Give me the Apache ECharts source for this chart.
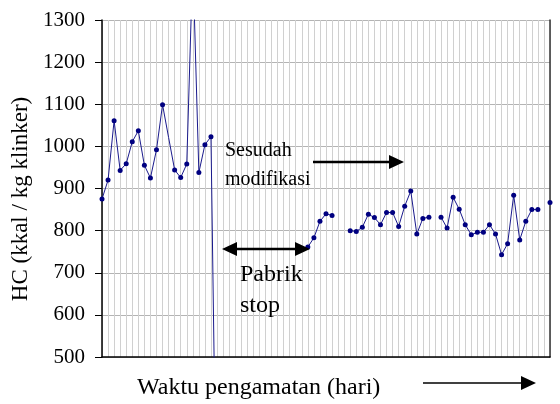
<!DOCTYPE html>
<html>
<head>
<meta charset="utf-8">
<script src="https://cdn.jsdelivr.net/npm/echarts@6/dist/echarts.min.js"></script>
<style>
  html, body { margin: 0; padding: 0; background: #fff; }
  #main { width: 560px; height: 404px; }
</style>
</head>
<body>
<div id="main"></div>
<script>
// hari pengamatan (1..75)
var hari = [];
for (var d = 1; d <= 75; d++) { hari.push(String(d)); }

// HC (kkal / kg klinker), null = tidak ada data (pabrik stop / kosong)
var hc = [
  875, 920, 1061, 943, 959, 1011, 1037, 955, 925, 992,
  1099, 1021, 944, 926, 958, 1440, 938, 1004, 1023, 0,
  null, null, null, null, null, null, null, null, null, null,
  null, null, null, null, 761, 783, 822, 840, 836, null,
  null, 800, 798, 808, 839, 831, 814, 843, 843, 810,
  858, 894, 792, 829, 832, null, 832, 806, 879, 851,
  814, 790, 796, 796, 814, 792, 743, 769, 884, 778,
  822, 850, 850, null, 867
];
var yTicks = [500, 600, 700, 800, 900, 1000, 1100, 1200, 1300];

// titik tanpa marker (garis lurus di Excel)
var noMarker = [11];

var myChart = echarts.init(document.getElementById('main'));
var serif = 'Liberation Serif';

var seriesData = hc.map(function (v, i) {
  if (noMarker.indexOf(i) >= 0) return { value: v, symbol: 'none' };
  return v;
});

function arrowHead(x, y, dir) {
  // dir 1 = kanan, -1 = kiri
  return {
    type: 'polygon',
    z: 100,
    shape: { points: [[x, y], [x - dir * 15, y - 7], [x - dir * 15, y + 7]] },
    style: { fill: '#000' }
  };
}

var option = {
  animation: false,
  grid: { left: 102, right: 10, top: 20, bottom: 47, outerBoundsMode: 'none', containLabel: false },
  xAxis: {
    type: 'category',
    data: hari,
    boundaryGap: false,
    axisLine: { onZero: false, lineStyle: { color: '#000', width: 1.5 } },
    axisTick: { show: false },
    axisLabel: { show: false },
    splitLine: { show: true, interval: 0, lineStyle: { color: '#d0d0d0', width: 1 } }
  },
  yAxis: [{
    type: 'value',
    min: yTicks[0],
    max: yTicks[yTicks.length - 1],
    interval: 100,
    axisLine: { show: true, lineStyle: { color: '#000', width: 1.5 } },
    axisTick: { show: true, inside: false, length: 7, lineStyle: { color: '#000' } },
    axisLabel: {
      fontFamily: serif, fontSize: 21, color: '#000', margin: 17,
      formatter: function (v) { return String(v); }
    },
    splitLine: { show: true, lineStyle: { color: '#b4b4b4', width: 1 } }
  }, {
    type: 'value',
    position: 'right',
    min: yTicks[0],
    max: yTicks[yTicks.length - 1],
    interval: 100,
    axisLine: { show: true, lineStyle: { color: '#333', width: 1.5 } },
    axisTick: { show: false },
    axisLabel: { show: false },
    splitLine: { show: false }
  }],
  series: [{
    type: 'line',
    data: seriesData,
    yAxisIndex: 0,
    symbol: 'circle',
    symbolSize: 5,
    showAllSymbol: true,
    connectNulls: false,
    clip: true,
    lineStyle: { color: '#1a1a8c', width: 1 },
    itemStyle: { color: '#000080' }
  }],
  graphic: [
    // judul sumbu y
    { type: 'text', z: 100, x: 21, y: 199, rotation: Math.PI / 2,
      style: { text: 'HC (kkal / kg klinker)', font: '23px "Liberation Serif"', fill: '#000',
               align: 'center', verticalAlign: 'middle' } },
    // Sesudah modifikasi
    { type: 'text', z: 100, left: 225, top: 136,
      style: { text: 'Sesudah\nmodifikasi', font: '20px "Liberation Serif"', fill: '#000', lineHeight: 29 } },
    { type: 'line', z: 100, shape: { x1: 313, y1: 162, x2: 392, y2: 162 }, style: { stroke: '#000', lineWidth: 2.5 } },
    arrowHead(404, 162, 1),
    // Pabrik stop
    { type: 'line', z: 100, shape: { x1: 234, y1: 249, x2: 298, y2: 249 }, style: { stroke: '#000', lineWidth: 2.5 } },
    arrowHead(222, 249, -1),
    arrowHead(310, 249, 1),
    { type: 'text', z: 100, left: 240, top: 259,
      style: { text: 'Pabrik\nstop', font: '24px "Liberation Serif"', fill: '#000', lineHeight: 31 } },
    // sumbu x
    { type: 'text', z: 100, left: 137, top: 376,
      style: { text: 'Waktu pengamatan (hari)', font: '24px "Liberation Serif"', fill: '#000' } },
    { type: 'line', z: 100, shape: { x1: 423, y1: 383, x2: 524, y2: 383 }, style: { stroke: '#000', lineWidth: 1.5 } },
    arrowHead(536, 383, 1)
  ]
};

myChart.setOption(option);
</script>
</body>
</html>
